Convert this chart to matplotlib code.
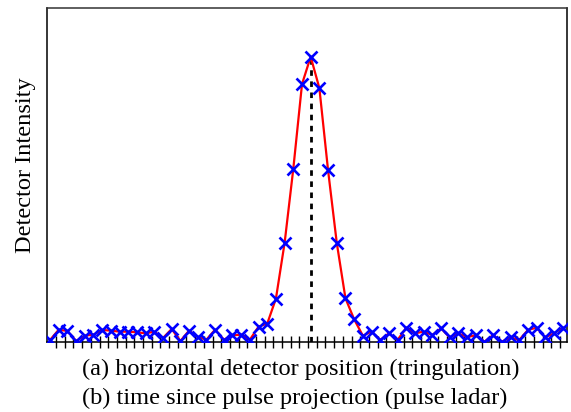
import numpy as np
import matplotlib
matplotlib.use('Agg')
import matplotlib.pyplot as plt

# samples (detector element / time bin index)
sample_idx = np.arange(60)
intensity = [0.006, 0.037, 0.033, 0.003, 0.019, 0.022, 0.036, 0.034, 0.031, 0.031,
             0.029, 0.026, 0.031, 0.012, 0.039, 0.003, 0.034, 0.015, 0.007, 0.037,
             0.007, 0.020, 0.022, 0.007, 0.046, 0.055, 0.130, 0.297, 0.519, 0.772,
             0.854, 0.760, 0.514, 0.297, 0.131, 0.068, 0.019, 0.031, 0.006, 0.026,
             0.006, 0.043, 0.026, 0.031, 0.021, 0.041, 0.014, 0.026, 0.014, 0.021,
             0.001, 0.021, 0.001, 0.014, 0.006, 0.036, 0.043, 0.014, 0.026, 0.043]
peak_idx = 30
tick_pos = np.arange(59) + 0.7
major_tick_pos = [9.7, 29.7, 49.7]

xlabel_lines = ['(a) horizontal detector position (tringulation)',
                '(b) time since pulse projection (pulse ladar)']
ylabel = 'Detector Intensity'

plt.rcParams['font.family'] = ['Liberation Serif', 'DejaVu Serif']

fig = plt.figure(figsize=(5.71, 4.12), dpi=100)
ax = fig.add_axes([47 / 571, 1 - 342 / 412, 520 / 571, 334 / 412])

ax.plot(sample_idx, intensity, color='red', lw=1.6, zorder=2)
ax.plot(sample_idx, intensity, ls='none', marker='x', color='blue',
        markersize=8, mew=1.9, zorder=3)
ax.plot([peak_idx, peak_idx], [0, intensity[peak_idx]], color='black',
        ls=(0, (2, 2)), lw=2, zorder=1)

ax.set_xlim(-0.35, 59.5)
ax.set_ylim(0, 1.0)

ax.set_xticks(tick_pos)
ax.set_xticklabels([])
ax.tick_params(axis='x', direction='inout', length=8, width=1.0, color='black')
ax.set_xticks(major_tick_pos, minor=True)
ax.tick_params(axis='x', which='minor', direction='inout', length=14, width=2.0,
               color='#888888')
ax.set_yticks([])

for side in ['left', 'right', 'bottom']:
    ax.spines[side].set_linewidth(1.1)
ax.spines['top'].set_linewidth(1.1)
ax.spines['top'].set_color('#333333')

fig.text(82 / 571, 1 - 369 / 412, xlabel_lines[0], fontsize=17.6,
         ha='left', va='center')
fig.text(82 / 571, 1 - 398 / 412, xlabel_lines[1], fontsize=17.6,
         ha='left', va='center')
fig.text(26 / 571, 1 - 165 / 412, ylabel, fontsize=17.6, rotation=90,
         ha='center', va='center')

fig.savefig('out.png', dpi=100)
